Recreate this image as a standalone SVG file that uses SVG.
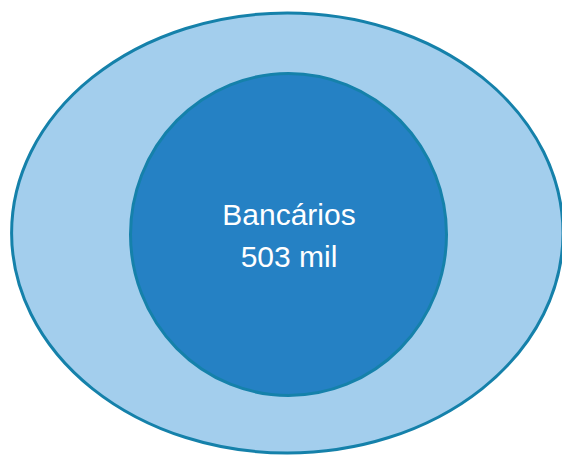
<svg xmlns="http://www.w3.org/2000/svg" width="562" height="456" viewBox="0 0 562 456">
<style>
.outer{fill:#A3CEED;stroke:#1581AA;stroke-width:3}
.inner{fill:#2581C4;stroke:#1581AA;stroke-width:3}
.lbl{font-family:"Liberation Sans",Arial,sans-serif;font-size:30px;fill:#FFFFFF;text-anchor:middle}
</style>
<rect width="562" height="456" fill="#FFFFFF"/>
<g id="node-outer">
<ellipse class="outer" cx="287.3" cy="233" rx="275.7" ry="220"/>
</g>
<g id="node-inner">
<ellipse class="inner" cx="288.5" cy="234.5" rx="158" ry="161"/>
<text class="lbl" x="289" y="225">Bancários</text>
<text class="lbl" x="289" y="267">503 mil</text>
</g>
<g id="connectors"></g>
</svg>
